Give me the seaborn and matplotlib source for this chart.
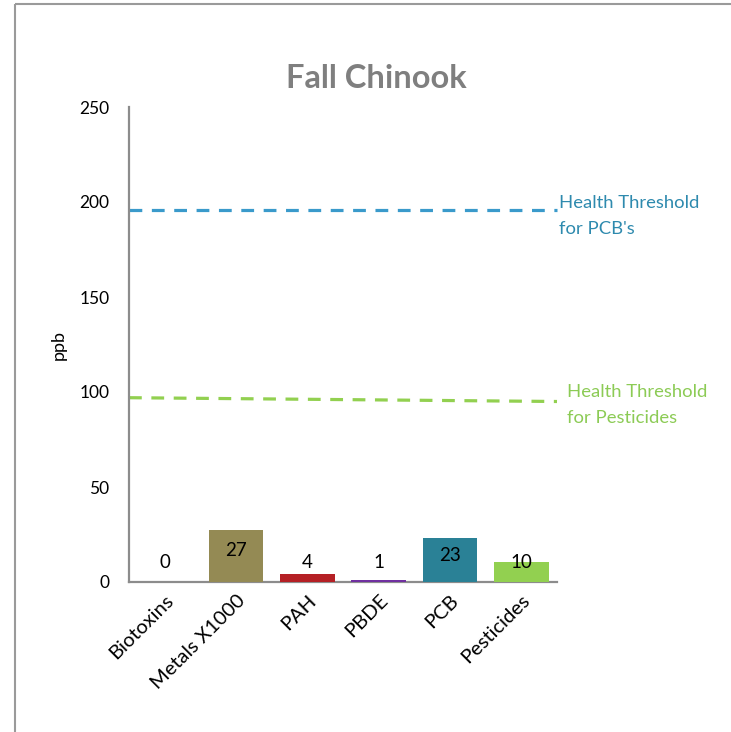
import matplotlib
matplotlib.use("Agg")
import matplotlib.pyplot as plt
from matplotlib.lines import Line2D
import seaborn as sns
import numpy as np
import pandas as pd

categories = ["Biotoxins", "Metals X1000", "PAH", "PBDE", "PCB", "Pesticides"]
values = [0, 27.4, 4.2, 1.3, 23, 10.3]
bar_colors = ["#948A54", "#948A54", "#B52025", "#7030A0", "#2A8196", "#92D050"]
pcb_threshold = [196, 196]
pest_threshold = [97, 95]
yticks = [0, 50, 100, 150, 200, 250]

sns.set_theme(style="white")
plt.rcParams['font.family'] = ['Lato', 'DejaVu Sans']

fig = plt.figure(figsize=(7.31, 7.32), dpi=100)
ax = fig.add_axes([129/731, 1-582/732, (557-129)/731, (582-107)/732])

df = pd.DataFrame({"cat": categories, "val": values})
sns.barplot(data=df, x="cat", y="val", hue="cat", palette=bar_colors,
            legend=False, width=0.77, ax=ax, saturation=1, linewidth=0, zorder=3)

ax.set_xlim(-0.5, len(categories) - 0.5)
ax.set_ylim(0, 250)
ax.set_yticks(yticks)
ax.set_yticklabels([str(t) for t in yticks], fontsize=12.5, color="black")
ax.tick_params(axis='y', length=0, pad=14)
ax.tick_params(axis='x', length=0, pad=7)
ax.set_xticks(range(len(categories)))
ax.set_xticklabels(categories, rotation=45, ha='right', rotation_mode='anchor',
                   fontsize=14.5, color="black")
ax.set_xlabel("")
ax.set_ylabel("ppb", fontsize=13, color="black", labelpad=9)

for side in ["top", "right"]:
    ax.spines[side].set_visible(False)
for side in ["left", "bottom"]:
    ax.spines[side].set_color("#8C8C8C")
    ax.spines[side].set_linewidth(1.6)
    ax.spines[side].set_zorder(2)

# data labels
vals = np.array(values, dtype=float)
label_y = np.maximum(vals * 0.6, 10.5)
for i, (v, ly) in enumerate(zip(values, label_y)):
    ax.text(i, ly, str(int(round(v))), ha='center', va='center', fontsize=13.5,
            color="black", zorder=5)

# threshold lines
xs = [-0.5, len(categories) - 0.5]
ax.plot(xs, pcb_threshold, ls=(0, (4, 3)), color="#3A9ACB", lw=2.3, clip_on=False)
ax.plot(xs, pest_threshold, ls=(0, (4, 3)), color="#92D050", lw=2.3, clip_on=False)

ax.text(5.53, 192.5, "Health Threshold\nfor PCB's", ha='left', va='center',
        fontsize=13.3, color="#2E8AAE", linespacing=1.75, clip_on=False)
ax.text(5.64, 93.0, "Health Threshold\nfor Pesticides", ha='left', va='center',
        fontsize=13.3, color="#8CCB55", linespacing=1.75, clip_on=False)

fig.text(376/731, 1-78/732, "Fall Chinook", ha='center', va='center',
         fontsize=23.5, fontweight='bold', color="#7F7F7F")

# outer frame (left & top edges)
fig.add_artist(Line2D([15/731, 15/731], [0, 1-4/732], transform=fig.transFigure,
                      color="#9A9A9A", lw=1.5, solid_capstyle='butt'))
fig.add_artist(Line2D([15/731, 1.0], [1-4/732, 1-4/732], transform=fig.transFigure,
                      color="#9A9A9A", lw=1.5, solid_capstyle='butt'))

fig.savefig("out.png", dpi=100)
